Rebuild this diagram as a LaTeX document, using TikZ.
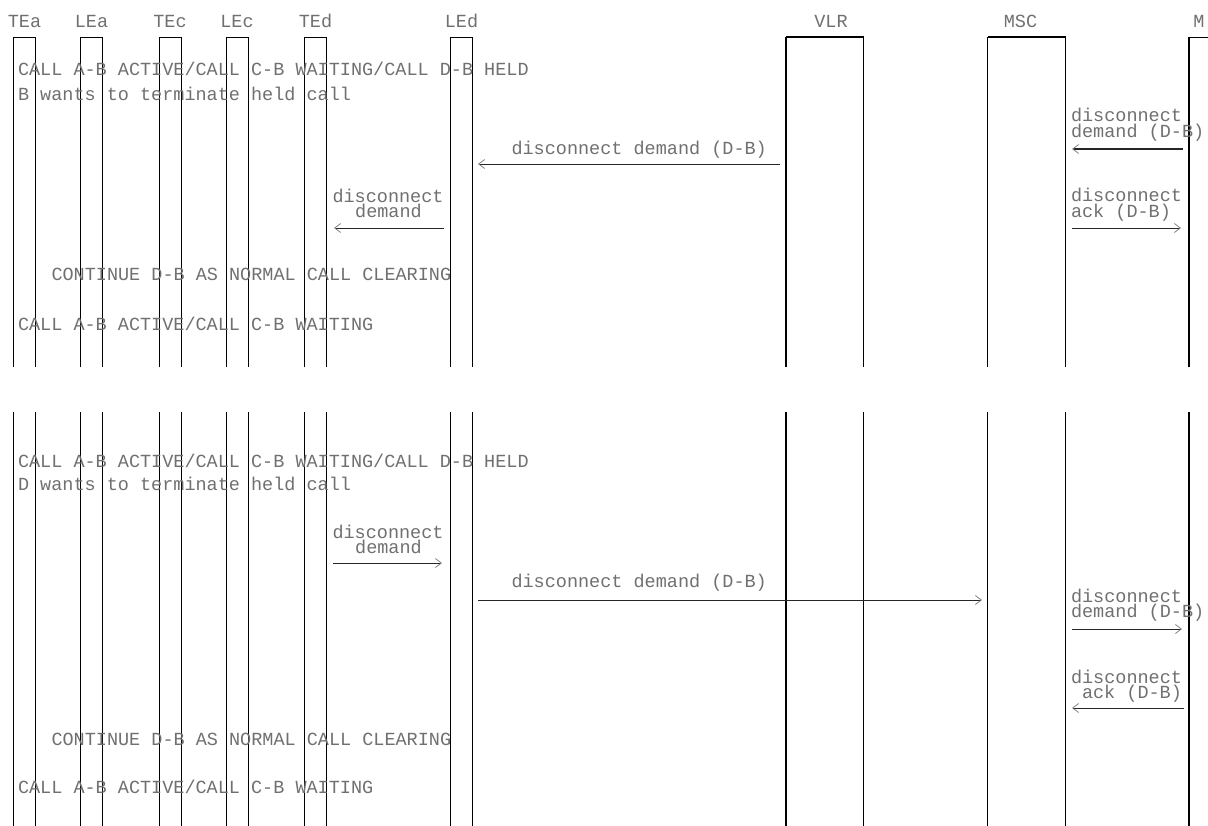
\documentclass[tikz,border=0pt]{standalone}
\usepackage{fontspec}
\newfontfamily\monofam{Liberation Mono}
\usetikzlibrary{arrows.meta}
\begin{document}
\begin{tikzpicture}[x=1bp,y=-1bp,
  life/.style={line width=1.4bp,black},
  topbar/.style={line width=1bp,black},
  bigbar/.style={line width=1.7bp,black},
  txt/.style={inner sep=0pt,outer sep=0pt,anchor=base west,text=black!56,
    text height=11bp,text depth=2bp,
    font=\monofam\fontsize{18.5bp}{20bp}\selectfont},
  ctxt/.style={txt,anchor=base},
  msg/.style={line width=0.9bp,black!85},
  ltip/.tip={Straight Barb[length=6bp,width=9bp,line width=0.8bp,color=black!50]},
]
\useasboundingbox (0,0) rectangle (1208,826);
% lifelines
\foreach \nm/\a/\b/\bar in {TEa/13.5/35.7/topbar, LEa/80.7/102.7/topbar, TEc/159.3/181.7/topbar, LEc/226.7/248.3/topbar, TEd/304.3/326.7/topbar, LEd/450.7/472.3/topbar, VLR/786/863.5/bigbar, MSC/987.7/1065.7/bigbar}{
  \coordinate (\nm-lb) at (\a,367);
  \coordinate (\nm-lt) at (\a,37);
  \coordinate (\nm-rt) at (\b,37);
  \coordinate (\nm-rb) at (\b,367);
  \draw[life] (\nm-lb) -- (\nm-lt);
  \draw[life] (\nm-rt) -- (\nm-rb);
  \draw[\bar] (\nm-lt) -- (\nm-rt);
  \coordinate (\nm-lt2) at (\a,412);
  \coordinate (\nm-lb2) at (\a,826);
  \coordinate (\nm-rt2) at (\b,412);
  \coordinate (\nm-rb2) at (\b,826);
  \draw[life] (\nm-lt2) -- (\nm-lb2);
  \draw[life] (\nm-rt2) -- (\nm-rb2);
}
\coordinate (M-lb) at (1189,367);
\coordinate (M-lt) at (1189,37);
\coordinate (M-rt) at (1210,37);
\draw[life] (M-lb) -- (M-lt);
\draw[topbar] (M-lt) -- (M-rt);
\coordinate (M-lt2) at (1189,412);
\coordinate (M-lb2) at (1189,826);
\draw[life] (M-lt2) -- (M-lb2);
% headers
\node[ctxt] (hTEa) at (24.5,27) {TEa};
\node[ctxt] (hLEa) at (91.5,27) {LEa};
\node[ctxt] (hTEc) at (170,27) {TEc};
\node[ctxt] (hLEc) at (237,27) {LEc};
\node[ctxt] (hTEd) at (315.5,27) {TEd};
\node[ctxt] (hLEd) at (461.5,27) {LEd};
\node[ctxt] (hVLR) at (831,27) {VLR};
\node[ctxt] (hMSC) at (1020.5,27) {MSC};
\node[ctxt] (hM) at (1199,27) {M};
% ---- top section
\node[txt] (t1) at (18,75) {CALL A-B ACTIVE/CALL C-B WAITING/CALL D-B HELD};
\node[txt] (t2) at (18,100) {B wants to terminate held call};
\node[txt] (t3) at (511.5,154) {disconnect demand (D-B)};
\coordinate (a1s) at (780,164);
\coordinate (a1e) at (478,164);
\draw[msg,-ltip] (a1s) -- (a1e);
\node[txt] (t4a) at (332.5,202) {disconnect};
\node[ctxt] (t4b) at (388.5,217) {demand};
\coordinate (a2s) at (444,228);
\coordinate (a2e) at (334,228);
\draw[msg,-ltip] (a2s) -- (a2e);
\node[txt] (t5a) at (1071,121) {disconnect};
\node[txt] (t5b) at (1071,137) {demand (D-B)};
\coordinate (a3s) at (1183,149);
\coordinate (a3e) at (1072,149);
\draw[msg,line width=2bp,-ltip] (a3s) -- (a3e);
\node[txt] (t6a) at (1071,201) {disconnect};
\node[txt] (t6b) at (1071,217) {ack (D-B)};
\coordinate (a4s) at (1072,228);
\coordinate (a4e) at (1181,228);
\draw[msg,-ltip] (a4s) -- (a4e);
\node[txt] (t7) at (51.5,280) {CONTINUE D-B AS NORMAL CALL CLEARING};
\node[txt] (t8) at (18,330) {CALL A-B ACTIVE/CALL C-B WAITING};
% ---- bottom section
\node[txt] (b1) at (18,467) {CALL A-B ACTIVE/CALL C-B WAITING/CALL D-B HELD};
\node[txt] (b2) at (18,490) {D wants to terminate held call};
\node[txt] (b3a) at (332.5,538) {disconnect};
\node[ctxt] (b3b) at (388.5,553) {demand};
\coordinate (b3s) at (333,563);
\coordinate (b3e) at (442,563);
\draw[msg,-ltip] (b3s) -- (b3e);
\node[txt] (b4) at (511.5,587) {disconnect demand (D-B)};
\coordinate (b4s) at (478,600);
\coordinate (b4e) at (982,600);
\draw[msg,-ltip] (b4s) -- (b4e);
\node[txt] (b5a) at (1071,602) {disconnect};
\node[txt] (b5b) at (1071,617) {demand (D-B)};
\coordinate (b5s) at (1072,629);
\coordinate (b5e) at (1182,629);
\draw[msg,-ltip] (b5s) -- (b5e);
\node[txt] (b6a) at (1071,683) {disconnect};
\node[txt] (b6b) at (1082,698) {ack (D-B)};
\coordinate (b6s) at (1184,708);
\coordinate (b6e) at (1072,708);
\draw[msg,-ltip] (b6s) -- (b6e);
\node[txt] (b7) at (51.5,745) {CONTINUE D-B AS NORMAL CALL CLEARING};
\node[txt] (b8) at (18,793) {CALL A-B ACTIVE/CALL C-B WAITING};
\end{tikzpicture}
\end{document}
